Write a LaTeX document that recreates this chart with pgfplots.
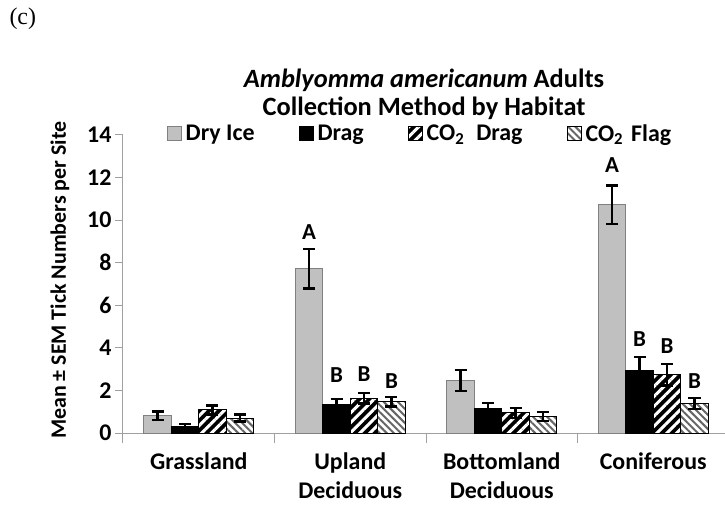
\documentclass[border=0pt]{standalone}
\usepackage{pgfplots}
\pgfplotsset{compat=1.18}
\usepackage{fontspec}
\setmainfont{Carlito}
\newfontfamily\serif{Liberation Serif}
\usetikzlibrary{patterns.meta}
\definecolor{dryice}{RGB}{192,192,192}
\definecolor{axisgray}{RGB}{160,160,160}
\begin{document}
\begin{tikzpicture}
\useasboundingbox (-123bp,-73bp) rectangle (602bp,433bp);
\node[font=\serif\fontsize{24}{24}\selectfont, anchor=west] at (-117bp,414bp) {(c)};
\node[font=\bfseries\fontsize{26.5}{28}\selectfont, align=center] at (301bp,339bp) {\textit{Amblyomma americanum} Adults\\Collection Method by Habitat};
\begin{axis}[
  at={(0,0)}, anchor=south west,
  width=606bp, height=298bp, scale only axis,
  xmin=-0.5, xmax=3.5, ymin=0, ymax=14,
  ytick={0,2,...,14},
  xtick={0,1,2,3},
  xticklabels={Grassland, Upland\\Deciduous, Bottomland\\Deciduous, Coniferous},
  minor xtick={-0.5,0.5,1.5,2.5,3.5},
  major x tick style={draw=none},
  minor tick length=10bp,
  major tick length=8bp,
  tick align=outside,
  tick style={axisgray, line width=1bp},
  axis x line*=bottom, axis y line*=left,
  axis line style={axisgray, line width=1bp, -},
  xticklabel style={font=\bfseries\fontsize{24}{29}\selectfont, align=center, anchor=north, yshift=-8bp},
  yticklabel style={font=\bfseries\fontsize{24}{24}\selectfont},
  /pgf/number format/assume math mode=true,
  ylabel={Mean ± SEM Tick Numbers per Site},
  ylabel style={font=\bfseries\fontsize{22}{22}\selectfont, at={(-0.104,0.513)}, anchor=center},
  ybar, bar width=0.1815,
  error bars/error bar style={line width=2.5bp, black},
  error bars/error mark options={rotate=90, mark size=6bp, line width=2.5bp, black},
  legend columns=4,
  legend style={draw=none, fill=none, at={(0.49,1.005)}, anchor=center,
    font=\bfseries\fontsize{24}{24}\selectfont,
    /tikz/every even column/.append style={column sep=42bp},
    /tikz/every odd column/.append style={column sep=2bp}},
  legend image code/.code={\draw[#1] (0bp,-7bp) rectangle (14bp,7bp);},
  clip=false,
]
\addplot[bar shift=-0.27225, fill=dryice, draw=gray, line width=1bp,
  error bars/.cd, y dir=both, y explicit]
  coordinates {(0,0.80) +- (0,0.2) (1,7.71) +- (0,0.93) (2,2.47) +- (0,0.5) (3,10.72) +- (0,0.9)};
\addlegendentry{Dry Ice}
\addplot[bar shift=-0.09075, fill=black, draw=black, line width=1bp,
  error bars/.cd, y dir=plus, y explicit]
  coordinates {(0,0.31) +- (0,0.11) (1,1.36) +- (0,0.24) (2,1.13) +- (0,0.28) (3,2.92) +- (0,0.65)};
\addlegendentry{Drag}
\addplot[bar shift=0.09075, fill=black, draw=black, line width=1bp,
  postaction={pattern={Lines[angle=45,distance=7bp,line width=3bp]}, pattern color=white},
  error bars/.cd, y dir=both, y explicit]
  coordinates {(0,1.09) +- (0,0.21) (1,1.63) +- (0,0.25) (2,0.94) +- (0,0.23) (3,2.74) +- (0,0.51)};
\addlegendentry{CO\textsubscript{2}\hspace{12bp}Drag}
\addplot[bar shift=0.27225, fill=white, draw=black, line width=1bp,
  postaction={pattern={Lines[angle=-45,distance=5bp,line width=2bp]}, pattern color=gray!80!black},
  error bars/.cd, y dir=both, y explicit]
  coordinates {(0,0.70) +- (0,0.16) (1,1.47) +- (0,0.22) (2,0.78) +- (0,0.21) (3,1.38) +- (0,0.26)};
\addlegendentry{CO\textsubscript{2}\hspace{8bp}Flag}
\node[font=\bfseries\fontsize{23}{23}\selectfont] at (axis cs:0.728,9.45) {A};
\node[font=\bfseries\fontsize{23}{23}\selectfont] at (axis cs:0.909,2.74) {B};
\node[font=\bfseries\fontsize{23}{23}\selectfont] at (axis cs:1.091,2.77) {B};
\node[font=\bfseries\fontsize{23}{23}\selectfont] at (axis cs:1.272,2.42) {B};
\node[font=\bfseries\fontsize{23}{23}\selectfont] at (axis cs:2.728,12.6) {A};
\node[font=\bfseries\fontsize{23}{23}\selectfont] at (axis cs:2.909,4.43) {B};
\node[font=\bfseries\fontsize{23}{23}\selectfont] at (axis cs:3.091,4.10) {B};
\node[font=\bfseries\fontsize{23}{23}\selectfont] at (axis cs:3.272,2.42) {B};
\end{axis}
\end{tikzpicture}
\end{document}
